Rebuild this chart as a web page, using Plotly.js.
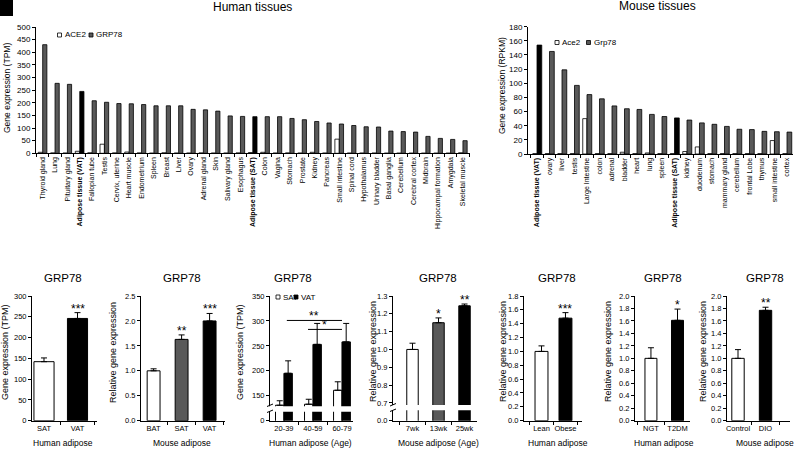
<!DOCTYPE html>
<html><head><meta charset="utf-8">
<script src="https://cdn.plot.ly/plotly-3.0.1.min.js"></script>
<style>html,body{margin:0;padding:0;background:#fff}#chart{width:800px;height:450px}</style>
</head><body><div id="chart"></div>
<script>
// ---------- DATA ----------
const humanTissues = ["Thyroid gland","Lung","Pituitary gland","Adipose tissue (VAT)","Fallopian tube","Testis","Cervix, uterine","Heart muscle","Endometrium","Spleen","Breast","Liver","Ovary","Adrenal gland","Skin","Salivary gland","Esophagus","Adipose tissue (SAT)","Colon","Vagina","Stomach","Prostate","Kidney","Pancreas","Small intestine","Spinal cord","Hypothalamus","Urinary bladder","Basal ganglia","Cerebellum","Cerebral cortex","Midbrain","Hippocampal formation","Amygdala","Skeletal muscle"];
const humanACE2 = [4,1.5,1,8,2,36,1.5,5,1.5,0.5,2,1,1,1.5,1,1,1.5,3,4,1,1.5,1,4,1,56,1,1,1,0.5,0.5,0.5,0.5,0.5,0.5,2];
const humanGRP78 = [430,277,273,245,208,202,197,196,193,188,188,188,174,172,167,148,146,145,145,145,138,133,126,120,116,110,105,104,88,86,84,67,59,55,50];
const humanHighlight = ["Adipose tissue (VAT)","Adipose tissue (SAT)"];

const mouseTissues = ["Adipose tissue (VAT)","ovary","liver","testis","Large Intestine","colon","adrenal","bladder","heart","lung","spleen","Adipose tissue (SAT)","kidney","duodenum","stomach","mammary gland","cerebellum","frontal Lobe","thymus","small intestine","cortex"];
const mouseAce2 = [0.5,0.5,0.5,0.5,50,0.5,0.5,2.5,0.5,1.5,0.5,0.5,3.5,10,0.5,0.5,0.5,0.5,0.5,19,0.5];
const mouseGrp78 = [154,145,119,97,84,78,68,64,63,56,53,51,48,44,42,39,35,34.5,32,31.5,31];

// Panel B1: Human adipose
const b1Cats = ["SAT","VAT"], b1Vals = [142,246], b1Err = [9,14], b1Sig = ["","***"];
// Panel B2: Mouse adipose
const b2Cats = ["BAT","SAT","VAT"], b2Vals = [1.0,1.63,2.0], b2Err = [0.04,0.09,0.15], b2Sig = ["","**","***"];
// Panel B3: Human adipose (Age)
const b3Cats = ["20-39","40-59","60-79"];
const b3SAT = [131,133,161], b3SATErr = [9,10,17];
const b3VAT = [195,253,258], b3VATErr = [25,42,37];
const b3SigLabels = ["**","*"], b3SigFrom = [0.1,0.83], b3SigTo = [2.0,2.0], b3SigY = [301,283];
const b3TickVals = [100,150,200,250,300,350], b3TickText = ["0","150","200","250","300","350"];
// Panel B4: Mouse adipose (Age)
const b4Cats = ["7wk","13wk","25wk"], b4Vals = [1.0,1.15,1.245], b4Err = [0.035,0.027,0.01], b4Sig = ["","*","**"];
const b4TickVals = [0.6,0.7,0.8,0.9,1.0,1.1,1.2,1.3], b4TickText = ["0.0","0.7","0.8","0.9","1.0","1.1","1.2","1.3"];
// Panel B5: Lean / Obese
const b5Cats = ["Lean","Obese"], b5Vals = [1.0,1.48], b5Err = [0.08,0.08], b5Sig = ["","***"];
// Panel B6: NGT / T2DM
const b6Cats = ["NGT","T2DM"], b6Vals = [1.0,1.61], b6Err = [0.17,0.18], b6Sig = ["","*"];
// Panel B7: Control / DIO
const b7Cats = ["Control","DIO"], b7Vals = [1.0,1.77], b7Err = [0.14,0.05], b7Sig = ["","**"];

// ---------- STYLE ----------
const FONT = "'Liberation Sans', Arial, sans-serif";
const WHITE = "#ffffff", GRAY = "#595959", BLACK = "#000000";
const W = 800, H = 450;
const fx = p => p / W, fy = p => 1 - p / H;

const traces = [];
const annotations = [];
const shapes = [];
const layout = {
  width: W, height: H, margin: {l:0,r:0,t:0,b:0},
  paper_bgcolor: "#fff", plot_bgcolor: "rgba(0,0,0,0)",
  showlegend: false, barmode: "overlay",
  font: {family: FONT, color: "#000", size: 8}
};

function yAxis(anchor, pxTop, pxBot, range, extra) {
  return Object.assign({
    anchor: anchor, domain: [fy(pxBot), fy(pxTop)], range: range,
    showline: true, linecolor: "#000", linewidth: 1, ticks: "outside", ticklen: 3, tickwidth: 1, tickcolor: "#000",
    showgrid: false, zeroline: false, fixedrange: true, tickfont: {size: 7.5, family: FONT}
  }, extra || {});
}
function xAxis(anchor, pxL, pxR, range, extra) {
  return Object.assign({
    anchor: anchor, domain: [fx(pxL), fx(pxR)], range: range, type: "category",
    showline: true, linecolor: "#000", linewidth: 1, ticks: "outside", ticklen: 3, tickwidth: 1, tickcolor: "#000",
    tickson: "boundaries", showgrid: false, zeroline: false, fixedrange: true, tickangle: 0,
    tickfont: {size: 7.5, family: FONT}
  }, extra || {});
}
function addText(text, xpx, ypx, size, opts) {
  annotations.push(Object.assign({
    text: text, xref: "paper", yref: "paper", x: fx(xpx), y: fy(ypx),
    xanchor: "center", yanchor: "middle", showarrow: false, font: {size: size, family: FONT, color: "#000"}
  }, opts || {}));
}

// ---------- TOP: Human tissues ----------
layout.xaxis = xAxis("y", 36, 470, [-0.54, 34.57], {
  tickvals: humanTissues,
  ticktext: humanTissues.map(t => humanHighlight.includes(t) ? "<b>" + t + "</b>" : t),
  tickangle: -90, tickfont: {size: 7, family: FONT}
});
layout.yaxis = yAxis("x", 27, 153.3, [0, 500], {dtick: 50, tickfont: {size: 8, family: FONT}});
traces.push({type: "bar", x: humanTissues, y: humanACE2, xaxis: "x", yaxis: "y", offset: -0.36, width: 0.35,
  marker: {color: WHITE, line: {color: BLACK, width: 0.8}}, name: "ACE2", hoverinfo: "skip"});
traces.push({type: "bar", x: humanTissues, y: humanGRP78, xaxis: "x", yaxis: "y", offset: 0, width: 0.34,
  marker: {color: humanTissues.map(t => humanHighlight.includes(t) ? BLACK : GRAY), line: {color: BLACK, width: 0.8}}, name: "GRP78", hoverinfo: "skip"});
addText("Human tissues", 252, 7, 12);
addText("Gene expression (TPM)", 7, 88, 8.5, {textangle: -90});
// legend
shapes.push({type: "rect", xref: "paper", yref: "paper", x0: fx(57.5), x1: fx(61.5), y0: fy(37), y1: fy(33), fillcolor: WHITE, line: {color: BLACK, width: 0.8}});
addText("ACE2", 62.5, 35, 8, {xanchor: "left"});
shapes.push({type: "rect", xref: "paper", yref: "paper", x0: fx(89), x1: fx(93), y0: fy(37), y1: fy(33), fillcolor: GRAY, line: {color: BLACK, width: 0.8}});
addText("GRP78", 94, 35, 8, {xanchor: "left"});

// ---------- TOP: Mouse tissues ----------
layout.xaxis2 = xAxis("y2", 528, 793, [-0.72, 20.48], {
  tickvals: mouseTissues,
  ticktext: mouseTissues.map(t => humanHighlight.includes(t) ? "<b>" + t + "</b>" : t),
  tickangle: -90, tickfont: {size: 7, family: FONT}
});
layout.yaxis2 = yAxis("x2", 26.7, 154, [0, 180], {dtick: 20, tickfont: {size: 8, family: FONT}});
traces.push({type: "bar", x: mouseTissues, y: mouseAce2, xaxis: "x2", yaxis: "y2", offset: -0.34, width: 0.33,
  marker: {color: WHITE, line: {color: BLACK, width: 0.8}}, name: "Ace2", hoverinfo: "skip"});
traces.push({type: "bar", x: mouseTissues, y: mouseGrp78, xaxis: "x2", yaxis: "y2", offset: 0, width: 0.38,
  marker: {color: mouseTissues.map(t => humanHighlight.includes(t) ? BLACK : GRAY), line: {color: BLACK, width: 0.8}}, name: "Grp78", hoverinfo: "skip"});
addText("Mouse tissues", 657, 6, 12);
addText("Gene expression (RPKM)", 502, 85, 8.5, {textangle: -90});
shapes.push({type: "rect", xref: "paper", yref: "paper", x0: fx(555), x1: fx(559), y0: fy(44.5), y1: fy(40.5), fillcolor: WHITE, line: {color: BLACK, width: 0.8}});
addText("Ace2", 560, 42.5, 8, {xanchor: "left"});
shapes.push({type: "rect", xref: "paper", yref: "paper", x0: fx(586.5), x1: fx(590.5), y0: fy(44.5), y1: fy(40.5), fillcolor: GRAY, line: {color: BLACK, width: 0.8}});
addText("Grp78", 591.5, 42.5, 8, {xanchor: "left"});

// ---------- BOTTOM PANELS ----------
const BT = 296, BB = 420.7;
function simplePanel(n, cats, vals, err, colors, sig, xpx, xr, yr, yextra, barW, ytitle, ytx, xtitle, xtx, ttx) {
  const xa = "x" + n, ya = "y" + n;
  layout["xaxis" + n] = xAxis(ya, xpx[0], xpx[1], xr);
  layout["yaxis" + n] = yAxis(xa, BT, BB, yr, yextra);
  traces.push({type: "bar", x: cats, y: vals, xaxis: xa, yaxis: ya, offset: -barW/2, width: barW,
    marker: {color: colors, line: {color: BLACK, width: 1}}, hoverinfo: "skip",
    error_y: {type: "data", symmetric: false, array: err, arrayminus: err.map(() => 0), color: BLACK, thickness: 1, width: 3}});
  cats.forEach((c, i) => {
    if (sig[i]) annotations.push({text: sig[i], xref: xa, yref: ya, x: c, y: vals[i] + err[i], xanchor: "center", yanchor: "bottom",
      yshift: -5, showarrow: false, font: {size: 12, family: FONT, color: "#000"}});
  });
  addText("GRP78", ttx, 278, 11.5);
  addText(ytitle, ytx, 352, 9, {textangle: -90});
  addText(xtitle, xtx, 443, 8.5);
}

simplePanel(3, b1Cats, b1Vals, b1Err, [WHITE, BLACK], b1Sig, [32, 97], [-0.358, 1.582], [0, 300], {dtick: 50}, 0.6,
  "Gene expression (TPM)", 5, "Human adipose", 63, 63);
simplePanel(4, b2Cats, b2Vals, b2Err, [WHITE, GRAY, BLACK], b2Sig, [141, 225], [-0.45, 2.55], [0, 2.5], {dtick: 0.5, tickformat: ".1f"}, 0.46,
  "Relative gene expression", 113, "Mouse adipose", 182, 182);

// B3 grouped
layout.xaxis5 = xAxis("y5", 270, 353, [-0.48, 2.38]);
layout.yaxis5 = yAxis("x5", BT, BB, [100, 350], {tickvals: b3TickVals, ticktext: b3TickText});
traces.push({type: "bar", x: b3Cats, y: b3SAT, xaxis: "x5", yaxis: "y5", offset: -0.29, width: 0.29,
  marker: {color: WHITE, line: {color: BLACK, width: 1}}, hoverinfo: "skip",
  error_y: {type: "data", symmetric: false, array: b3SATErr, arrayminus: b3SATErr.map(() => 0), color: BLACK, thickness: 1, width: 3}});
traces.push({type: "bar", x: b3Cats, y: b3VAT, xaxis: "x5", yaxis: "y5", offset: 0, width: 0.29,
  marker: {color: BLACK, line: {color: BLACK, width: 1}}, hoverinfo: "skip",
  error_y: {type: "data", symmetric: false, array: b3VATErr, arrayminus: b3VATErr.map(() => 0), color: BLACK, thickness: 1, width: 3}});
b3SigLabels.forEach((s, i) => {
  shapes.push({type: "line", xref: "x5", yref: "y5", x0: b3SigFrom[i], x1: b3SigTo[i], y0: b3SigY[i], y1: b3SigY[i], line: {color: BLACK, width: 1}});
  annotations.push({text: s, xref: "x5", yref: "y5", x: (b3SigFrom[i] + b3SigTo[i]) / 2, y: b3SigY[i], xanchor: "center", yanchor: "bottom",
    yshift: -5, showarrow: false, font: {size: 12, family: FONT, color: "#000"}});
});
// axis break
shapes.push({type: "rect", xref: "x5 domain", yref: "y5", x0: -0.05, x1: 1.0, y0: 118, y1: 129, fillcolor: WHITE, line: {width: 0}, layer: "above"});
shapes.push({type: "line", xref: "paper", yref: "paper", x0: fx(267), x1: fx(273), y0: fy(412.5), y1: fy(410), line: {color: BLACK, width: 1}});
shapes.push({type: "line", xref: "paper", yref: "paper", x0: fx(267), x1: fx(273), y0: fy(406.5), y1: fy(404), line: {color: BLACK, width: 1}});
// legend
shapes.push({type: "rect", xref: "paper", yref: "paper", x0: fx(276), x1: fx(280), y0: fy(299), y1: fy(295), fillcolor: WHITE, line: {color: BLACK, width: 0.8}});
addText("SAT", 281, 297, 8, {xanchor: "left"});
shapes.push({type: "rect", xref: "paper", yref: "paper", x0: fx(294), x1: fx(298), y0: fy(299), y1: fy(295), fillcolor: BLACK, line: {color: BLACK, width: 0.8}});
addText("VAT", 299, 297, 8, {xanchor: "left"});
addText("GRP78", 293, 278, 11.5);
addText("Gene expression (TPM)", 240, 352, 9, {textangle: -90});
addText("Human adipose (Age)", 310, 443, 8.5);

// B4 with broken axis
simplePanel(6, b4Cats, b4Vals, b4Err, [WHITE, GRAY, BLACK], b4Sig, [393, 477], [-0.75, 2.48], [0.6, 1.3], {tickvals: b4TickVals, ticktext: b4TickText}, 0.44,
  "Relative gene expression", 373, "Mouse adipose (Age)", 438, 438);
shapes.push({type: "rect", xref: "x6 domain", yref: "y6", x0: -0.05, x1: 1.0, y0: 0.658, y1: 0.688, fillcolor: WHITE, line: {width: 0}, layer: "above"});
shapes.push({type: "line", xref: "paper", yref: "paper", x0: fx(390), x1: fx(396), y0: fy(411.5), y1: fy(409), line: {color: BLACK, width: 1}});
shapes.push({type: "line", xref: "paper", yref: "paper", x0: fx(390), x1: fx(396), y0: fy(406), y1: fy(403.5), line: {color: BLACK, width: 1}});

simplePanel(7, b5Cats, b5Vals, b5Err, [WHITE, BLACK], b5Sig, [524, 582], [-0.73, 1.69], [0, 1.8], {dtick: 0.2, tickformat: ".1f"}, 0.54,
  "Relative gene expression", 503, "Human adipose", 558, 557);
simplePanel(8, b6Cats, b6Vals, b6Err, [WHITE, BLACK], b6Sig, [635, 690], [-0.6, 1.47], [0, 2.0], {dtick: 0.2, tickformat: ".1f"}, 0.45,
  "Relative gene expression", 608, "Human adipose", 664, 663);
simplePanel(9, b7Cats, b7Vals, b7Err, [WHITE, BLACK], b7Sig, [727, 790], [-0.4, 1.89], [0, 2.0], {dtick: 0.2, tickformat: ".1f"}, 0.45,
  "Relative gene expression", 703, "Mouse adipose", 765, 765);

// panel letter block (top-left corner)
shapes.push({type: "rect", xref: "paper", yref: "paper", x0: 0, x1: fx(13), y0: fy(16), y1: 1, fillcolor: BLACK, line: {width: 0}});

layout.annotations = annotations;
layout.shapes = shapes;
Plotly.newPlot("chart", traces, layout, {staticPlot: true, displayModeBar: false});
</script></body></html>
